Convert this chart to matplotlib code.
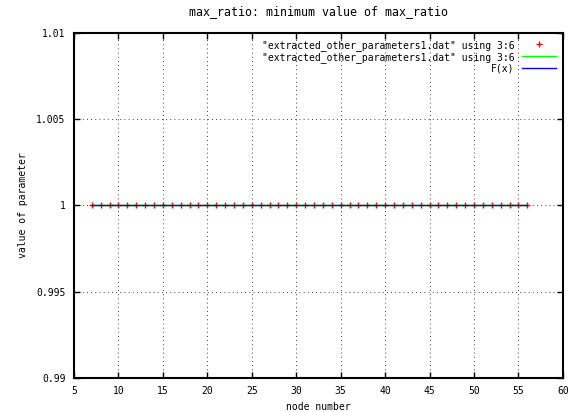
import matplotlib
matplotlib.use('Agg')
import matplotlib.pyplot as plt

# node numbers and minimum max_ratio per node
nodes = [7, 8, 9, 10, 11, 12, 13, 14, 15, 16, 17, 18, 19, 20, 21, 22, 23, 24,
         25, 26, 27, 28, 29, 30, 31, 32, 33, 34, 35, 36, 37, 38, 39, 40, 41,
         42, 43, 44, 45, 46, 47, 48, 49, 50, 51, 52, 53, 54, 55, 56]
max_ratio = [1.0, 1.0, 1.0, 1.0, 1.0, 1.0, 1.0, 1.0, 1.0, 1.0, 1.0, 1.0, 1.0,
             1.0, 1.0, 1.0, 1.0, 1.0, 1.0, 1.0, 1.0, 1.0, 1.0, 1.0, 1.0, 1.0,
             1.0, 1.0, 1.0, 1.0, 1.0, 1.0, 1.0, 1.0, 1.0, 1.0, 1.0, 1.0, 1.0,
             1.0, 1.0, 1.0, 1.0, 1.0, 1.0, 1.0, 1.0, 1.0, 1.0, 1.0]
fit_value = 1.0

xticks = [5, 10, 15, 20, 25, 30, 35, 40, 45, 50, 55, 60]
yticks = [0.99, 0.995, 1.0, 1.005, 1.01]
ylabels = ['0.99', '0.995', '1', '1.005', '1.01']

label = '"extracted_other_parameters1.dat" using 3:6'

plt.rcParams['font.family'] = 'DejaVu Sans Mono'
plt.rcParams['font.size'] = 7

fig = plt.figure(figsize=(5.75, 4.12), dpi=100)
ax = fig.add_axes([0.1287, 0.0825, 0.8503, 0.8375])

ax.plot(nodes, max_ratio, linestyle='none', marker='+', color='red',
        markersize=5, markeredgewidth=1, label=label)
ax.plot(nodes, max_ratio, color='#00ff00', linewidth=1, label=label)
ax.plot([nodes[0], nodes[-1]], [fit_value, fit_value], color='blue',
        linewidth=1, label='F(x)')

ax.set_xlim(5, 60)
ax.set_ylim(0.99, 1.01)
ax.set_xticks(xticks)
ax.set_yticks(yticks)
ax.set_yticklabels(ylabels)
ax.tick_params(direction='in', top=True, right=True, length=4, width=1,
               pad=6)
ax.grid(True, color='black', linestyle=(0, (1, 4)), linewidth=0.6)
for s in ax.spines.values():
    s.set_linewidth(1.5)

ax.set_xlabel('node number')
ax.set_ylabel('value of parameter', labelpad=6)
ax.set_title('max_ratio: minimum value of max_ratio', pad=13)

leg = ax.legend(loc='upper right', frameon=False, markerfirst=False,
                handlelength=3.5, borderaxespad=0.3, labelspacing=0.1,
                alignment='right')
for t in leg.get_texts():
    t.set_ha('right')

fig.savefig('out.png', dpi=100)
